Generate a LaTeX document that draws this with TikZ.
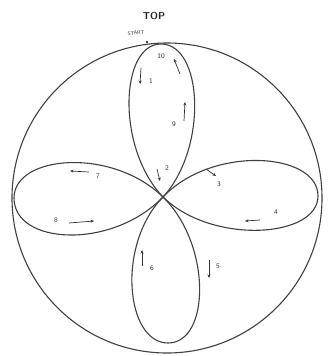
\documentclass[tikz,border=0pt]{standalone}
\usetikzlibrary{arrows.meta}
\begin{document}
\begin{tikzpicture}[x=1pt,y=-1pt,
  curve/.style={draw=black!75,line width=1.1pt},
  tick/.style={-{Stealth[length=3.5pt,width=3pt]},line width=0.7pt,black!80},
  num/.style={font=\sffamily\scriptsize,inner sep=0pt,text=black!80}]
\useasboundingbox (0,0) rectangle (328,356);
% outer circle
\coordinate (C) at (167,198);
\draw[curve] (C) circle[radius=155];
% petals
\coordinate (O) at (163,197);
\coordinate (T) at (161,44);
\coordinate (R) at (318,196);
\coordinate (L) at (14,198);
\coordinate (B) at (168,343);
\draw[curve] (O) .. controls (116,148) and (120,44) .. (T)
                 .. controls (203,44) and (208,148) .. (O);
\draw[curve] (O) .. controls (212,145) and (318,152) .. (R)
                 .. controls (318,238) and (212,245) .. (O);
\draw[curve] (O) .. controls (112,147) and (14,155) .. (L)
                 .. controls (14,245) and (112,250) .. (O);
\draw[curve] (O) .. controls (116,245) and (126,343) .. (B)
                 .. controls (210,343) and (212,245) .. (O);
% labels
\node[font=\sffamily\bfseries\normalsize,text=black!85] (top) at (154,16) {TOP};
\node[font=\sffamily\tiny,text=black!80,rotate=6] (start) at (136,33) {START};
\coordinate (s) at (147,42);
\fill[black!80] (s) circle[radius=1.3];
\node[num] (n10) at (161,56) {10};
\coordinate (a10a) at (180,74); \coordinate (a10b) at (174,59);
\draw[tick] (a10a) -- (a10b);
\node[num] (n1) at (151,81) {1};
\coordinate (a1a) at (141,68); \coordinate (a1b) at (140,84);
\draw[tick] (a1a) -- (a1b);
\node[num] (n9) at (174,124) {9};
\coordinate (a9a) at (184,121); \coordinate (a9b) at (185,102);
\draw[tick] (a9a) -- (a9b);
\node[num] (n2) at (167,168) {2};
\coordinate (a2a) at (157,169); \coordinate (a2b) at (160,181);
\draw[tick] (a2a) -- (a2b);
\node[num] (n3) at (219,184) {3};
\coordinate (a3a) at (206,169); \coordinate (a3b) at (216,176);
\draw[tick] (a3a) -- (a3b);
\node[num] (n4) at (276,212) {4};
\coordinate (a4a) at (260,220); \coordinate (a4b) at (245,221);
\draw[tick] (a4a) -- (a4b);
\node[num] (n5) at (218,266) {5};
\coordinate (a5a) at (209,260); \coordinate (a5b) at (209,278);
\draw[tick] (a5a) -- (a5b);
\node[num] (n6) at (152,268) {6};
\coordinate (a6a) at (142,266); \coordinate (a6b) at (142,250);
\draw[tick] (a6a) -- (a6b);
\node[num] (n7) at (98,176) {7};
\coordinate (a7a) at (89,172); \coordinate (a7b) at (70,171);
\draw[tick] (a7a) -- (a7b);
\node[num] (n8) at (56,220) {8};
\coordinate (a8a) at (69,223); \coordinate (a8b) at (94,221);
\draw[tick] (a8a) -- (a8b);
\end{tikzpicture}
\end{document}
